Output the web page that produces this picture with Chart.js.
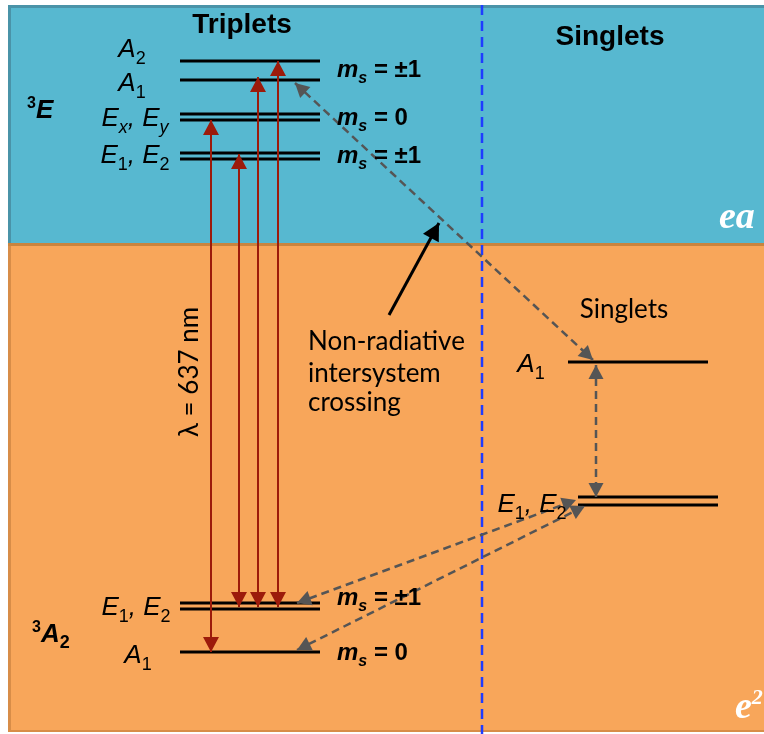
<!DOCTYPE html>
<html>
<head>
<meta charset="utf-8">
<script src="https://cdn.jsdelivr.net/npm/chart.js@4.4.1/dist/chart.umd.min.js"></script>
<style>
  html, body { margin: 0; padding: 0; background: #fff; }
  #wrap { width: 764px; height: 734px; }
</style>
</head>
<body>
<div id="wrap"><canvas id="c" width="764" height="734"></canvas></div>
<script>
// level heights in diagram units (axis runs downward, like the picture)
const upperTripletY = [61, 80, 114, 120, 153, 159]
const groundTripletY = [603, 609, 652]
const singletA1Y = [362]
const singletEY = [497, 505]
const tripletSpan = [180, 320]
const singletA1Span = [568, 708]
const singletESpan = [578, 718]

// optical transitions (637 nm and sidebands): column, ground end, excited end
const opticalX = [211, 239, 258, 278]
const opticalLow = [652, 607, 607, 607]
const opticalHigh = [120, 154, 77, 61]

// non-radiative intersystem paths: x0, y0, x1, y1
const iscPaths = [
  [295, 83, 593, 360],
  [596, 365, 596, 497],
  [297, 603, 576, 500],
  [297, 650, 585, 506],
]
const pointer = [389, 315, 439, 223]
const divider = [482, 5, 482, 734]
const bandEdges = [5, 244, 732]

const RED = '#9c1b0b'
const GRAY = '#555555'

const IT = 'italic 26px "Liberation Sans"'
const SUB = '18px "Liberation Sans"'
const SUBIT = 'italic 18px "Liberation Sans"'
const MS = 'bold italic 24px "Liberation Sans"'
const MSS = 'bold italic 16px "Liberation Sans"'
const MSV = 'bold 24px "Liberation Sans"'
const CAL = '26px Lato'

function p(t, f, dy) {
  return { t: t, f: f, dy: dy || 0 }
}
function ms(v) {
  return [p('m', MS), p('s', MSS, 6), p(' = ' + v, MSV)]
}
const E12 = [p('E', IT), p('1', SUB, 7), p(', ', IT), p('E', IT), p('2', SUB, 7)]

// label list: x, y, align, parts, colour
const labels = [
  [242, 33, 'center', [p('Triplets', 'bold 28px "Liberation Sans"')], '#000'],
  [610, 45, 'center', [p('Singlets', 'bold 28px "Liberation Sans"')], '#000'],
  [132, 57, 'center', [p('A', IT), p('2', SUB, 7)], '#000'],
  [132, 91, 'center', [p('A', IT), p('1', SUB, 7)], '#000'],
  [135, 126, 'center', [p('E', IT), p('x', SUBIT, 7), p(', ', IT), p('E', IT), p('y', SUBIT, 7)], '#000'],
  [135, 163, 'center', E12, '#000'],
  [27, 118, 'left', [p('3', 'bold 16px "Liberation Sans"', -10), p('E', 'bold italic 26px "Liberation Sans"')], '#000'],
  [337, 77, 'left', ms('±1'), '#000'],
  [337, 125, 'left', ms('0'), '#000'],
  [337, 163, 'left', ms('±1'), '#000'],
  [136, 615, 'center', E12, '#000'],
  [32, 642, 'left', [p('3', 'bold 16px "Liberation Sans"', -10), p('A', 'bold italic 26px "Liberation Sans"'), p('2', 'bold 18px "Liberation Sans"', 6)], '#000'],
  [138, 663, 'center', [p('A', IT), p('1', SUB, 7)], '#000'],
  [337, 605, 'left', ms('±1'), '#000'],
  [337, 660, 'left', ms('0'), '#000'],
  [308, 350, 'left', [p('Non-radiative', CAL)], '#000'],
  [308, 382, 'left', [p('intersystem', CAL)], '#000'],
  [308, 411, 'left', [p('crossing', CAL)], '#000'],
  [624, 318, 'center', [p('Singlets', CAL)], '#000'],
  [531, 372, 'center', [p('A', IT), p('1', SUB, 7)], '#000'],
  [532, 512, 'center', E12, '#000'],
  [719, 228, 'left', [p('ea', 'bold italic 38px "Liberation Serif"')], '#fff'],
  [735, 718, 'left', [p('e', 'bold italic 38px "Liberation Serif"'), p('2', 'bold italic 22px "Liberation Serif"', -14)], '#fff'],
]

function seg(x0, y0, x1, y1) {
  return [{ x: x0, y: y0 }, { x: x1, y: y1 }]
}

let datasets = []
// pointer and transitions first so they sit on top of the levels
datasets.push({ data: seg(...pointer), borderColor: '#000', borderWidth: 3, heads: ['end'], headSize: [17, 9] })
iscPaths.forEach(function(d) {
  datasets.push({ data: seg(...d), borderColor: GRAY, borderWidth: 2.5, borderDash: [8, 5], heads: ['start', 'end'], headSize: [14, 7.5] })
})
opticalX.forEach(function(x, i) {
  datasets.push({ data: seg(x, opticalLow[i], x, opticalHigh[i]), borderColor: RED, borderWidth: 2, heads: ['start', 'end'], headSize: [15, 8] })
})
upperTripletY.concat(groundTripletY).forEach(function(y) {
  datasets.push({ data: seg(tripletSpan[0], y, tripletSpan[1], y), borderColor: '#000', borderWidth: 3 })
})
singletA1Y.forEach(function(y) {
  datasets.push({ data: seg(singletA1Span[0], y, singletA1Span[1], y), borderColor: '#000', borderWidth: 3 })
})
singletEY.forEach(function(y) {
  datasets.push({ data: seg(singletESpan[0], y, singletESpan[1], y), borderColor: '#000', borderWidth: 3 })
})
datasets.push({ data: seg(...divider), borderColor: '#1f3cff', borderWidth: 2.5, borderDash: [10, 6] })
datasets.forEach(function(d) {
  d.showLine = true
  d.pointRadius = 0
  d.fill = false
})

const bands = {
  id: 'bands',
  beforeDatasetsDraw(chart) {
    const ctx = chart.ctx, xs = chart.scales.x, ys = chart.scales.y
    const x0 = xs.getPixelForValue(8), x1 = xs.getPixelForValue(764)
    const yT = ys.getPixelForValue(bandEdges[0])
    const yM = ys.getPixelForValue(bandEdges[1])
    const yB = ys.getPixelForValue(bandEdges[2])
    ctx.save()
    ctx.fillStyle = '#57b8d0'
    ctx.fillRect(x0, yT, x1 - x0, yM - yT)
    ctx.fillStyle = '#f8a65a'
    ctx.fillRect(x0, yM, x1 - x0, yB - yM)
    // borders
    ctx.fillStyle = '#4a93a8'
    ctx.fillRect(x0, yT, x1 - x0, 3)
    ctx.fillRect(x0, yT, 3, yM - yT)
    ctx.fillStyle = '#d88d48'
    ctx.fillRect(x0, yM, 3, yB - yM)
    ctx.fillRect(x0, yB - 2, x1 - x0, 2)
    ctx.fillStyle = '#c9843f'
    ctx.fillRect(x0, yM - 1, x1 - x0, 3)
    ctx.restore()
  },
}

function head(ctx, from, to, s, color) {
  const ang = Math.atan2(to.y - from.y, to.x - from.x)
  ctx.save()
  ctx.translate(to.x, to.y)
  ctx.rotate(ang)
  ctx.beginPath()
  ctx.moveTo(0, 0)
  ctx.lineTo(-s[0], -s[1])
  ctx.lineTo(-s[0], s[1])
  ctx.closePath()
  ctx.fillStyle = color
  ctx.fill()
  ctx.restore()
}

const arrowHeads = {
  id: 'arrowHeads',
  afterDatasetsDraw(chart) {
    chart.data.datasets.forEach(function(ds, i) {
      if (!ds.heads) return
      const pts = chart.getDatasetMeta(i).data
      const a = pts[0], b = pts[pts.length - 1]
      if (ds.heads.indexOf('end') >= 0) head(chart.ctx, a, b, ds.headSize, ds.borderColor)
      if (ds.heads.indexOf('start') >= 0) head(chart.ctx, b, a, ds.headSize, ds.borderColor)
    })
  },
}

function drawRich(ctx, x, y, parts, align, color) {
  let w = 0
  parts.forEach(function(q) {
    ctx.font = q.f
    w += ctx.measureText(q.t).width
  })
  let cx = align === 'center' ? x - w / 2 : align === 'right' ? x - w : x
  ctx.fillStyle = color
  ctx.textAlign = 'left'
  ctx.textBaseline = 'alphabetic'
  parts.forEach(function(q) {
    ctx.font = q.f
    ctx.fillText(q.t, cx, y + q.dy)
    cx += ctx.measureText(q.t).width
  })
}

const texts = {
  id: 'texts',
  afterDraw(chart) {
    const ctx = chart.ctx, xs = chart.scales.x, ys = chart.scales.y
    ctx.save()
    labels.forEach(function(l) {
      drawRich(ctx, xs.getPixelForValue(l[0]), ys.getPixelForValue(l[1]), l[3], l[2], l[4])
    })
    // wavelength label, rotated
    ctx.translate(xs.getPixelForValue(198), ys.getPixelForValue(372))
    ctx.rotate(-Math.PI / 2)
    ctx.font = CAL
    ctx.fillStyle = '#000'
    ctx.textAlign = 'center'
    ctx.textBaseline = 'alphabetic'
    ctx.fillText('λ = 637 nm', 0, 0)
    ctx.restore()
  },
}

new Chart(document.getElementById('c'), {
  type: 'scatter',
  data: { datasets: datasets },
  options: {
    responsive: false,
    animation: false,
    layout: { padding: 0 },
    plugins: { legend: { display: false }, tooltip: { enabled: false } },
    scales: {
      x: { type: 'linear', min: 0, max: 764, display: false },
      y: { type: 'linear', min: 0, max: 734, reverse: true, display: false },
    },
  },
  plugins: [bands, arrowHeads, texts],
})
</script>
</body>
</html>
